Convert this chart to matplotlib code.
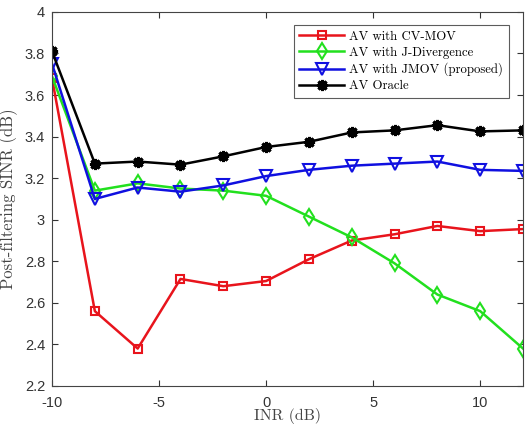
import numpy as np
import matplotlib.pyplot as plt

plt.rcParams['axes.unicode_minus'] = False

inr = [-10, -8, -6, -4, -2, 0, 2, 4, 6, 8, 10, 12]
cv_mov = [3.68, 2.56, 2.38, 2.715, 2.68, 2.705, 2.81, 2.90, 2.93, 2.97, 2.945, 2.955]
j_div = [3.69, 3.14, 3.175, 3.15, 3.14, 3.115, 3.015, 2.915, 2.79, 2.64, 2.56, 2.38]
jmov = [3.75, 3.10, 3.155, 3.135, 3.165, 3.21, 3.24, 3.26, 3.27, 3.28, 3.24, 3.235]
oracle = [3.81, 3.27, 3.28, 3.265, 3.305, 3.35, 3.375, 3.42, 3.43, 3.455, 3.425, 3.43]

fig = plt.figure(figsize=(5.31, 4.26), dpi=100)
ax = fig.add_axes([0.098, 0.094, 0.887, 0.878])

ax.plot(inr, cv_mov, color='#e8141c', lw=1.8, marker='s', ms=6, mfc='none', mew=1.5,
        label='AV with CV-MOV')
ax.plot(inr, j_div, color='#22e01e', lw=1.8, marker='d', ms=8, mfc='none', mew=1.5,
        label='AV with J-Divergence')
ax.plot(inr, jmov, color='#1010e0', lw=1.8, marker='v', ms=9, mfc='none', mew=1.5,
        label='AV with JMOV (proposed)')
ax.plot(inr, oracle, color='black', lw=1.8, marker=(8, 2, 0), ms=8, mew=2.2,
        label='AV Oracle')

ax.set_xlim(-10, 12)
ax.set_ylim(2.2, 4)
ax.set_xticks([-10, -5, 0, 5, 10])
ax.set_yticks(np.arange(2.2, 4.01, 0.2))
ax.set_yticklabels(['2.2', '2.4', '2.6', '2.8', '3', '3.2', '3.4', '3.6', '3.8', '4'])
ax.tick_params(direction='in', top=True, right=True, labelsize=10.5, colors='#333333',
               length=4)
ax.tick_params(axis='x', pad=7)
ax.tick_params(axis='y', pad=5)
for lab in ax.get_xticklabels() + ax.get_yticklabels():
    lab.set_fontfamily('Liberation Sans')
for s in ax.spines.values():
    s.set_color('#444444')
    s.set_linewidth(0.8)

ax.set_xlabel('INR (dB)', fontfamily='cmr10', fontsize=11.5, color='#444444', labelpad=-1)
ax.set_ylabel('Post-filtering SINR (dB)', fontfamily='cmr10', fontsize=12,
              color='#444444', labelpad=5)

leg = ax.legend(loc='upper right', prop={'family': 'cmr10', 'size': 9.2},
                fancybox=False, edgecolor='#333333', borderpad=0.45, labelspacing=0.3,
                handlelength=3.5, handletextpad=0.4, borderaxespad=0,
                bbox_to_anchor=(0.970, 0.965))
leg.get_frame().set_linewidth(0.8)

fig.savefig('out.png', dpi=100)
